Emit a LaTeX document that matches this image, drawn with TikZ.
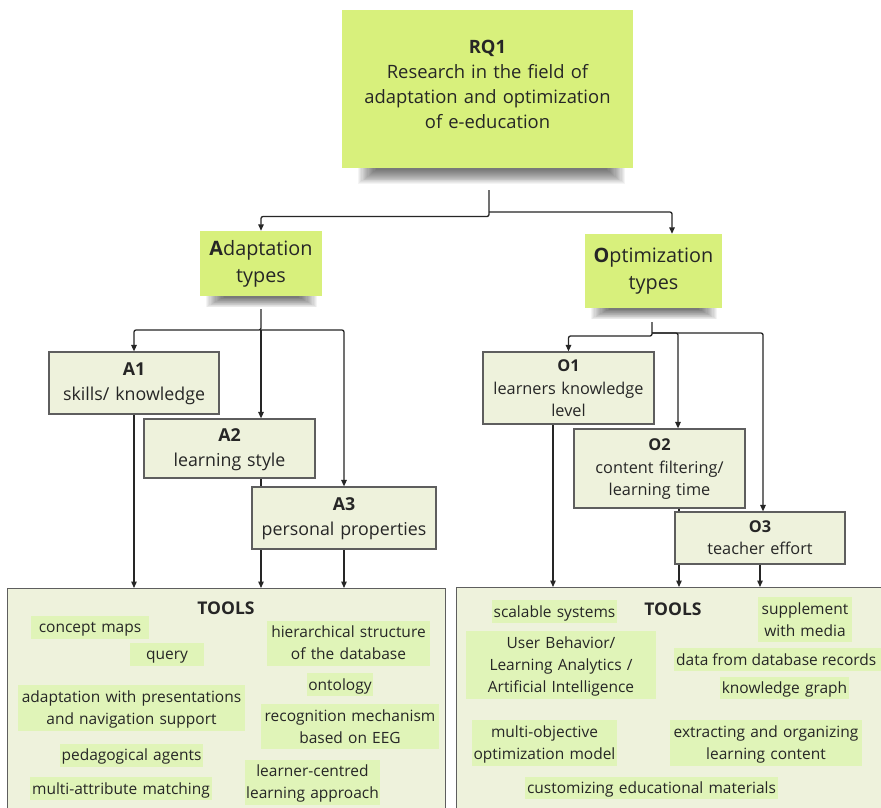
\documentclass[tikz,border=0pt]{standalone}
\usepackage{fontspec}
\setmainfont{Open Sans}
\usetikzlibrary{arrows.meta,calc}

\definecolor{ink}{HTML}{262626}
\definecolor{note}{HTML}{D8F07C}
\definecolor{pale}{HTML}{EEF2DC}
\definecolor{chipc}{HTML}{E0F4B8}
\definecolor{edge}{HTML}{5E5E5E}

\pgfdeclarelayer{paper}
\pgfdeclarelayer{wires}
\pgfsetlayers{paper,wires,main}

% soft drop shadow under the lower edge of a sticky note:
% #1 node name, #2 left inset, #3 right inset, #4 depth
\newcommand\stickydrop[4]{%
  \foreach \k in {0,...,15}{%
    \fill[black, opacity=0.045]
      ($(#1.south west)+({#2+1.2*\k},-1)$) rectangle
      ($(#1.south east)+({-#3-1.2*\k},{#4*(1-\k/17)})$);
  }%
}

\tikzset{
  wire/.style={draw=ink, line width=1.3pt, rounded corners=2pt,
    -{Triangle[length=6.5pt,width=5.5pt]}},
  sticky/.style={fill=note, draw=none, inner sep=0pt},
  catbox/.style={fill=pale, draw=edge, line width=1.2pt, inner sep=0pt},
  toolbox/.style={fill=pale, draw=edge, line width=1.2pt, inner sep=0pt, anchor=north west},
  chipfill/.style={fill=chipc},
  txtbase/.style={text=ink, align=center, text width=300pt, anchor=base, inner sep=0pt},
  notetext/.style={txtbase, font=\fontsize{18.4}{25.3}\selectfont},
  headtext/.style={txtbase, font=\fontsize{19.8}{27}\selectfont},
  cattext/.style={txtbase, font=\fontsize{17.8}{25}\selectfont},
  opttext/.style={txtbase, font=\fontsize{16.3}{22.5}\selectfont},
  chiptext/.style={txtbase, font=\fontsize{15.5}{22}\selectfont},
  titletext/.style={txtbase, font=\fontsize{17.5}{22}\selectfont\bfseries},
}

\begin{document}
\begin{tikzpicture}[x=1pt,y=-1pt]
  \useasboundingbox (0,0) rectangle (881,807);
  \clip (0,0) rectangle (881,807);
  \begin{pgfonlayer}{paper}
    \fill[white] (0,0) rectangle (881,807);
  \end{pgfonlayer}

  % research question and the two branches
  \node[sticky, minimum width=291pt, minimum height=158pt] (RQ) at (487.5,89) {};
  \node[notetext] (RQt) at (487.5,53) {\textbf{RQ1}\\Research in the field of\\adaptation and optimization\\of e-education};

  \node[sticky, minimum width=122pt, minimum height=65pt] (AD) at (261,263.5) {};
  \node[headtext] (ADt) at (261,255) {\textbf{A}daptation\\types};

  \node[sticky, minimum width=137pt, minimum height=74pt] (OP) at (653.5,271) {};
  \node[headtext] (OPt) at (653.5,262) {\textbf{O}ptimization\\types};

  % adaptation types
  \node[catbox, minimum width=170pt, minimum height=62pt] (A1) at (134,383) {};
  \node[cattext] (A1t) at (134,375.7) {\textbf{A1}\\skills/ knowledge};
  \node[catbox, minimum width=171pt, minimum height=59pt] (A2) at (229.5,448.5) {};
  \node[cattext] (A2t) at (229.5,441.7) {\textbf{A2}\\learning style};
  \node[catbox, minimum width=184pt, minimum height=62pt] (A3) at (344,518) {};
  \node[cattext] (A3t) at (344,510.7) {\textbf{A3}\\personal properties};

  % optimization types
  \node[catbox, minimum width=171pt, minimum height=72pt] (O1) at (568.5,388) {};
  \node[opttext] (O1t) at (568.5,371.7) {\textbf{O1}\\learners knowledge\\level};
  \node[catbox, minimum width=171pt, minimum height=79pt] (O2) at (659.5,468.5) {};
  \node[opttext] (O2t) at (659.5,450.7) {\textbf{O2}\\content filtering/\\learning time};
  \node[catbox, minimum width=170pt, minimum height=52pt] (O3) at (760,538) {};
  \node[opttext] (O3t) at (760,532.3) {\textbf{O3}\\teacher effort};

  % tool panels
  \node[toolbox, minimum width=438pt, minimum height=250pt] (TL) at (7,588) {};
  \node[toolbox, minimum width=440pt, minimum height=250pt] (TR) at (456,587) {};
  \node[titletext] (TLt) at (226,614) {TOOLS};
  \node[titletext] (TRt) at (673,615) {TOOLS};

  % adaptation tools
  \fill[chipfill] (31,616) rectangle (149,639);
  \node[chiptext] (c1) at (90,632) {concept maps};
  \fill[chipfill] (130,643) rectangle (204,666);
  \node[chiptext] (c2) at (167,659) {query};
  \fill[chipfill] (267,621) rectangle (430,666);
  \node[chiptext] (c3) at (348.5,637) {hierarchical structure\\of the database};
  \fill[chipfill] (307,673) rectangle (373,696);
  \node[chiptext] (c4) at (340,690) {ontology};
  \fill[chipfill] (18,685) rectangle (245,731);
  \node[chiptext] (c5) at (131.5,702) {adaptation with presentations\\and navigation support};
  \fill[chipfill] (261,704) rectangle (439,749);
  \node[chiptext] (c6) at (350,721) {recognition mechanism\\based on EEG};
  \fill[chipfill] (60,744) rectangle (203,767);
  \node[chiptext] (c7) at (131.5,760) {pedagogical agents};
  \fill[chipfill] (245,760) rectangle (380,805);
  \node[chiptext] (c8) at (312.5,776) {learner-centred\\learning approach};
  \fill[chipfill] (30,777) rectangle (212,800);
  \node[chiptext] (c9) at (121,794) {multi-attribute matching};

  % optimization tools
  \fill[chipfill] (492,600) rectangle (617,623);
  \node[chiptext] (d1) at (554.5,617) {scalable systems};
  \fill[chipfill] (758,597) rectangle (852,642);
  \node[chiptext] (d2) at (805,614) {supplement\\with media};
  \fill[chipfill] (466,631) rectangle (656,699);
  \node[chiptext] (d3) at (561,648) {User Behavior/\\Learning Analytics /\\Artificial Intelligence};
  \fill[chipfill] (674,648) rectangle (886,671);
  \node[chiptext, anchor=base west, text width=] (d4) at (676,665) {data from database records};
  \fill[chipfill] (720,677) rectangle (849,699);
  \node[chiptext] (d5) at (784.5,693) {knowledge graph};
  \fill[chipfill] (472,720) rectangle (617,766);
  \node[chiptext] (d6) at (544.5,737) {multi-objective\\optimization model};
  \fill[chipfill] (670,720) rectangle (862,766);
  \node[chiptext] (d7) at (766,737) {extracting and organizing\\learning content};
  \fill[chipfill] (525,777) rectangle (778,799);
  \node[chiptext] (d8) at (651.5,793) {customizing educational materials};

  % connectors
  \coordinate (rS) at (489,190);
  \coordinate (rJ) at (489,216.5);
  \coordinate (rK) at (489,212);
  \coordinate (aS) at (261,309);
  \coordinate (aJ) at (261,330);
  \coordinate (oS) at (652,322);
  \coordinate (oJ) at (652,336);
  \coordinate (oK) at (652,333);
  \coordinate (opIn) at ([xshift=18.5pt]OP.north);
  \coordinate (o2In) at ([xshift=18.5pt]O2.north);
  \coordinate (o3In) at ([xshift=3pt]O3.north);
  \coordinate (o1b) at ([xshift=-15.5pt]O1.south);
  \coordinate (o2b) at ([xshift=19.5pt]O2.south);

  \begin{pgfonlayer}{wires}
    \stickydrop{RQ}{16}{8}{16}
    \stickydrop{AD}{6}{5}{11}
    \stickydrop{OP}{6}{5}{11}

    \draw[wire] (rS) -- (rJ) -| (AD.north);
    \draw[wire] (rK) -| (opIn);

    \draw[wire] (aS) -- (aJ) -| (A1.north);
    \draw[wire] (aJ) -- (aJ |- A2.north);
    \draw[wire] (aJ) -| (A3.north);
    \draw[wire] (A1.south) -- (A1.south |- TL.north);
    \draw[wire] (aJ |- A2.south) -- (aJ |- TL.north);
    \draw[wire] (A3.south) -- (A3.south |- TL.north);

    \draw[wire] (oS) -- (oJ) -| (O1.north);
    \draw[wire] (oK) -| (o2In);
    \draw[wire] (oK) -| (o3In);
    \draw[wire] (o1b) -- (o1b |- TR.north);
    \draw[wire] (o2b) -- (o2b |- TR.north);
    \draw[wire] (O3.south) -- (O3.south |- TR.north);
  \end{pgfonlayer}
\end{tikzpicture}
\end{document}
